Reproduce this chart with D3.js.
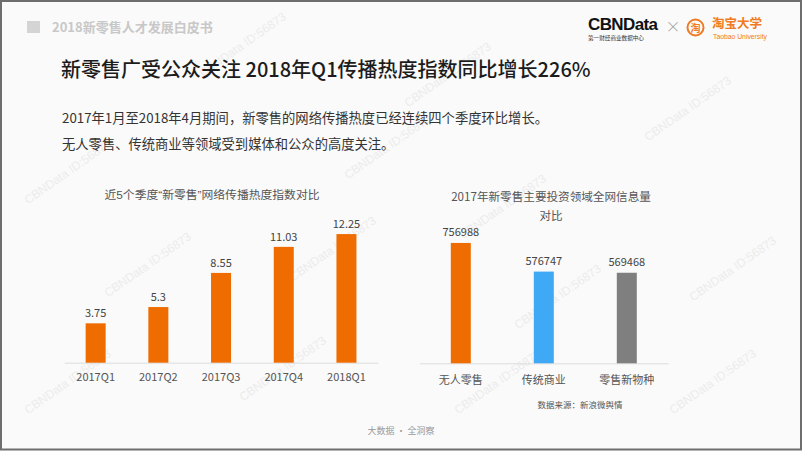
<!DOCTYPE html>
<html>
<head>
<meta charset="utf-8">
<script src="https://cdn.jsdelivr.net/npm/d3@7/dist/d3.min.js"></script>
<style>
  html, body { margin: 0; padding: 0; background: #fafafa; }
  svg { display: block; font-family: "Noto Sans CJK SC", "Noto Sans", sans-serif; }
</style>
</head>
<body>
<svg id="c" width="802" height="451"></svg>
<script>
// ---- data ----
const quarters = ["2017Q1", "2017Q2", "2017Q3", "2017Q4", "2018Q1"];
const heatIndex = [3.75, 5.3, 8.55, 11.03, 12.25];
const heatLabels = ["3.75", "5.3", "8.55", "11.03", "12.25"];

const fields = ["无人零售", "传统商业", "零售新物种"];
const infoVolume = [756988, 576747, 569468];
const fieldColors = ["#ef6c00", "#3fa9f5", "#7f7f7f"];

const headerText = "2018新零售人才发展白皮书";
const mainTitle = "新零售广受公众关注 2018年Q1传播热度指数同比增长226%";
const bodyLines = [
  "2017年1月至2018年4月期间，新零售的网络传播热度已经连续四个季度环比增长。",
  "无人零售、传统商业等领域受到媒体和公众的高度关注。"
];
const leftTitle = "近5个季度\u201c新零售\u201d网络传播热度指数对比";
const rightTitle = ["2017年新零售主要投资领域全网信息量", "对比"];
const sourceText = "数据来源：新浪微舆情";
const footerText = "大数据 · 全洞察";
const watermark = "CBNData ID:56873";
const watermarkSpots = [[245, 48], [450, 78], [690, 112], [70, 175], [390, 150], [505, 210],
  [150, 268], [335, 252], [560, 300], [735, 272], [70, 385], [285, 372], [500, 385], [715, 385]];

const svg = d3.select("#c");
const W = 802, H = 451;

svg.append("rect").attr("x", 0).attr("y", 0).attr("width", W).attr("height", H).attr("fill", "#fafafa");

// watermarks (faint, rotated)
svg.append("g").attr("fill", "#ececec").attr("font-size", 12)
  .attr("font-family", "Liberation Sans, Arial, sans-serif")
  .selectAll("text").data(watermarkSpots).join("text")
  .attr("text-anchor", "middle")
  .attr("transform", d => `translate(${d[0]},${d[1]}) rotate(-35)`)
  .text(watermark);

// header
svg.append("rect").attr("x", 27).attr("y", 21).attr("width", 13).attr("height", 12).attr("fill", "#d4d4d4");
svg.append("text").attr("x", 52).attr("y", 31.5).attr("font-size", 13).attr("font-weight", "bold")
  .attr("fill", "#c8c8c8").text(headerText);

// logos
svg.append("text").attr("x", 588).attr("y", 30).attr("font-size", 17).attr("font-weight", "bold")
  .attr("font-family", "Liberation Sans, Arial, sans-serif").attr("letter-spacing", -0.6)
  .attr("fill", "#111").text("CBNData");
svg.append("text").attr("x", 588).attr("y", 39.5).attr("font-size", 5.6).attr("fill", "#333")
  .text("第一财经商业数据中心");
svg.append("text").attr("x", 673).attr("y", 32).attr("font-size", 15).attr("fill", "#9a9a9a")
  .attr("text-anchor", "middle").attr("font-weight", 300).text("×");
svg.append("circle").attr("cx", 695.5).attr("cy", 27.5).attr("r", 8).attr("fill", "none")
  .attr("stroke", "#f07a22").attr("stroke-width", 2);
svg.append("text").attr("x", 695.5).attr("y", 31.5).attr("font-size", 10).attr("font-weight", "bold")
  .attr("fill", "#f07a22").attr("text-anchor", "middle").text("淘");
svg.append("text").attr("x", 712).attr("y", 27.5).attr("font-size", 12.5).attr("font-weight", "bold")
  .attr("fill", "#f07a22").text("淘宝大学");
svg.append("text").attr("x", 713).attr("y", 38.5).attr("font-size", 6.8).attr("fill", "#f07a22")
  .attr("font-family", "Liberation Sans, Arial, sans-serif").text("Taobao University");

// main title + body
svg.append("text").attr("x", 61).attr("y", 77).attr("font-size", 20).attr("fill", "#1c1c1c")
  .attr("font-weight", 500).text(mainTitle);
svg.selectAll("text.body").data(bodyLines).join("text").attr("class", "body")
  .attr("x", 62).attr("y", (d, i) => 123 + i * 26).attr("font-size", 13.3).attr("fill", "#333")
  .text(d => d);

// ---- left chart ----
const xL = d3.scaleBand().domain(quarters).range([64.3, 377.8]).paddingInner(0.681).paddingOuter(0.3405);
const yL = d3.scaleLinear().domain([0, 14]).range([362.7, 215.7]);
const gL = svg.append("g");
gL.append("text").attr("x", 212).attr("y", 199).attr("text-anchor", "middle").attr("font-size", 11.8)
  .attr("font-family", "Liberation Sans, Noto Sans CJK SC, sans-serif")
  .attr("fill", "#555").text(leftTitle);
const axL = gL.append("g").attr("transform", `translate(0,${yL(0)})`)
  .call(d3.axisBottom(xL).tickSize(0).tickPadding(11));
axL.select(".domain").attr("stroke", "#dcdcdc");
axL.selectAll("text").attr("font-size", 11).attr("fill", "#555").attr("font-family", "Noto Sans CJK SC, sans-serif");
gL.selectAll("rect.bar").data(heatIndex).join("rect").attr("class", "bar")
  .attr("x", (d, i) => xL(quarters[i])).attr("width", xL.bandwidth())
  .attr("y", d => yL(d)).attr("height", d => yL(0) - yL(d)).attr("fill", "#ef6c00");
gL.selectAll("text.val").data(heatIndex).join("text").attr("class", "val")
  .attr("x", (d, i) => xL(quarters[i]) + xL.bandwidth() / 2).attr("y", d => yL(d) - 6)
  .attr("text-anchor", "middle").attr("font-size", 11).attr("fill", "#444")
  .text((d, i) => heatLabels[i]);

// ---- right chart ----
const xR = d3.scaleBand().domain(fields).range([419.3, 668.3]).paddingInner(0.759).paddingOuter(0.3795);
const yR = d3.scaleLinear().domain([0, 800000]).range([363.3, 236.1]);
const gR = svg.append("g");
gR.selectAll("text.rt").data(rightTitle).join("text").attr("class", "rt")
  .attr("x", 551).attr("y", (d, i) => 201 + i * 18.5).attr("text-anchor", "middle")
  .attr("font-size", 11.6).attr("fill", "#555").text(d => d);
const axR = gR.append("g").attr("transform", `translate(0,${yR(0)})`)
  .call(d3.axisBottom(xR).tickSize(0).tickPadding(13));
axR.select(".domain").attr("stroke", "#dcdcdc");
axR.selectAll("text").attr("font-size", 11).attr("fill", "#555").attr("font-family", "Noto Sans CJK SC, sans-serif");
gR.selectAll("rect.bar").data(infoVolume).join("rect").attr("class", "bar")
  .attr("x", (d, i) => xR(fields[i])).attr("width", xR.bandwidth())
  .attr("y", d => yR(d)).attr("height", d => yR(0) - yR(d)).attr("fill", (d, i) => fieldColors[i]);
gR.selectAll("text.val").data(infoVolume).join("text").attr("class", "val")
  .attr("x", (d, i) => xR(fields[i]) + xR.bandwidth() / 2).attr("y", d => yR(d) - 7)
  .attr("text-anchor", "middle").attr("font-size", 11).attr("fill", "#444")
  .text(d => d);
gR.append("text").attr("x", 580).attr("y", 408).attr("text-anchor", "middle").attr("font-size", 8.5)
  .attr("fill", "#555").text(sourceText);

// footer
svg.append("text").attr("x", 401).attr("y", 433.5).attr("text-anchor", "middle").attr("font-size", 9)
  .attr("fill", "#9a9a9a").text(footerText);

// frame
svg.append("rect").attr("x", 1).attr("y", 1).attr("width", W - 2).attr("height", H - 2.5)
  .attr("fill", "none").attr("stroke", "#6e6e6e").attr("stroke-width", 2);
</script>
</body>
</html>
